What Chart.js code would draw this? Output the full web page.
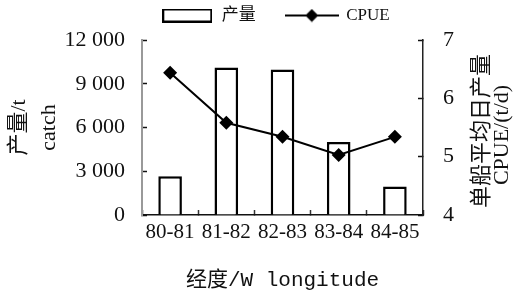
<!DOCTYPE html>
<html>
<head>
<meta charset="utf-8">
<script src="https://cdn.jsdelivr.net/npm/chart.js@4.4.0/dist/chart.umd.min.js"></script>
<style>
  body { margin: 0; background: #fff; }
  #wrap { width: 513px; height: 297px; }
</style>
</head>
<body>
<div id="wrap"><canvas id="miGrafico" width="513" height="297"></canvas></div>
<script>
// datos
const labelsLon = ['80-81', '81-82', '82-83', '83-84', '84-85'];
const dataCatch = [2650, 10120, 9970, 5000, 1950];
const dataCpue = [6.44, 5.58, 5.34, 5.03, 5.34];
const ticksCatch = [0, 3000, 6000, 9000, 12000];
const ticksCpue = [4, 5, 6, 7];

const serif = "'Liberation Serif', 'Noto Sans CJK SC'";

// iconos de la leyenda
function iconBar() {
    const c = document.createElement('canvas');
    c.width = 50; c.height = 14;
    const g = c.getContext('2d');
    g.fillStyle = '#fff';
    g.fillRect(0, 0, 50, 14);
    g.strokeStyle = '#000';
    g.lineWidth = 2;
    g.strokeRect(1, 1, 48, 12);
    return c;
}
function iconLine() {
    const c = document.createElement('canvas');
    c.width = 54; c.height = 14;
    const g = c.getContext('2d');
    g.strokeStyle = '#000';
    g.lineWidth = 2;
    g.beginPath(); g.moveTo(0, 7); g.lineTo(54, 7); g.stroke();
    g.fillStyle = '#000';
    g.beginPath(); g.moveTo(27, 0.5); g.lineTo(33.5, 7); g.lineTo(27, 13.5); g.lineTo(20.5, 7); g.closePath(); g.fill();
    return c;
}

const ajustes = {
    id: 'ajustes',
    afterLayout(chart) {
        const lg = chart.legend;
        lg.top -= 6; lg.bottom -= 6;
        lg.left += 19; lg.right += 19;
    },
    afterDraw(chart) {
        const ctx = chart.ctx;
        ctx.save();
        ctx.fillStyle = '#111';
        ctx.textAlign = 'center';
        ctx.textBaseline = 'middle';
        ctx.translate(480, 131);
        ctx.rotate(-Math.PI / 2);
        ctx.font = "22px 'Noto Sans CJK SC'";
        ctx.fillText('单船平均日产量', 0, 0);
        ctx.font = '22px ' + serif;
        ctx.fillText('CPUE/(t/d)', -4, 22);
        ctx.restore();
    }
};

const grafico = new Chart(document.getElementById('miGrafico'), {
    data: {
        labels: labelsLon,
        datasets: [
            {
                type: 'bar',
                label: '产量',
                data: dataCatch,
                yAxisID: 'y',
                backgroundColor: '#fff',
                borderColor: '#000',
                borderWidth: 2.5,
                categoryPercentage: 1,
                barPercentage: 0.42,
                order: 2
            },
            {
                type: 'line',
                label: 'CPUE',
                data: dataCpue,
                yAxisID: 'y1',
                borderColor: '#000',
                backgroundColor: '#000',
                borderWidth: 2,
                pointStyle: 'rectRot',
                pointRadius: 7,
                pointBorderWidth: 0,
                tension: 0,
                order: 1
            }
        ]
    },
    options: {
        responsive: false,
        animation: false,
        layout: { padding: { top: -17, left: 0, right: 0, bottom: 0 } },
        plugins: {
            tooltip: { enabled: false },
            legend: {
                position: 'top',
                labels: {
                    usePointStyle: true,
                    pointStyleWidth: 52,
                    padding: 30,
                    color: '#111',
                    font: { family: serif, size: 17 },
                    generateLabels(chart) {
                        const items = Chart.defaults.plugins.legend.labels.generateLabels(chart);
                        items.sort((a, b) => a.datasetIndex - b.datasetIndex);
                        items.forEach(it => {
                            it.pointStyle = it.datasetIndex === 0 ? iconBar() : iconLine();
                        });
                        return items;
                    }
                }
            }
        },
        scales: {
            x: {
                grid: { drawOnChartArea: false, offset: true, tickLength: -5, tickColor: '#333', tickWidth: 1.5 },
                border: { color: '#111', width: 1.5 },
                ticks: { color: '#111', padding: 10, maxRotation: 0, autoSkip: false, font: { family: serif, size: 21 } },
                title: {
                    display: true,
                    text: '经度/W longitude',
                    color: '#111',
                    padding: { top: 0, bottom: 4 },
                    font: { family: "'Liberation Mono', 'Noto Sans CJK SC'", size: 21 }
                },
                afterFit(s) { s.height = 82; }
            },
            y: {
                position: 'left',
                min: 0,
                max: 12000,
                afterBuildTicks(s) { s.ticks = ticksCatch.map(v => ({ value: v })); },
                grid: { drawOnChartArea: false, tickLength: -5, tickColor: '#111', tickWidth: 1.5 },
                border: { color: '#999', width: 2 },
                ticks: {
                    color: '#111',
                    padding: 22,
                    font: { family: serif, size: 22 },
                    callback: v => v >= 1000 ? Math.floor(v / 1000) + ' ' + String(v % 1000).padStart(3, '0') : String(v)
                },
                title: {
                    display: true,
                    text: ['产量/t', 'catch'],
                    color: '#111',
                    padding: { top: 4, bottom: 0 },
                    font: { family: serif, size: 22, lineHeight: 1.36 }
                },
                afterFit(s) { s.width = 142; }
            },
            y1: {
                position: 'right',
                min: 4,
                max: 7,
                afterBuildTicks(s) { s.ticks = ticksCpue.map(v => ({ value: v })); },
                grid: { drawOnChartArea: false, tickLength: -5, tickColor: '#111', tickWidth: 1.5 },
                border: { color: '#222', width: 1.5 },
                ticks: { color: '#111', padding: 25, font: { family: serif, size: 22 } },
                afterFit(s) { s.width = 90; }
            }
        }
    },
    plugins: [ajustes]
});
</script>
</body>
</html>
